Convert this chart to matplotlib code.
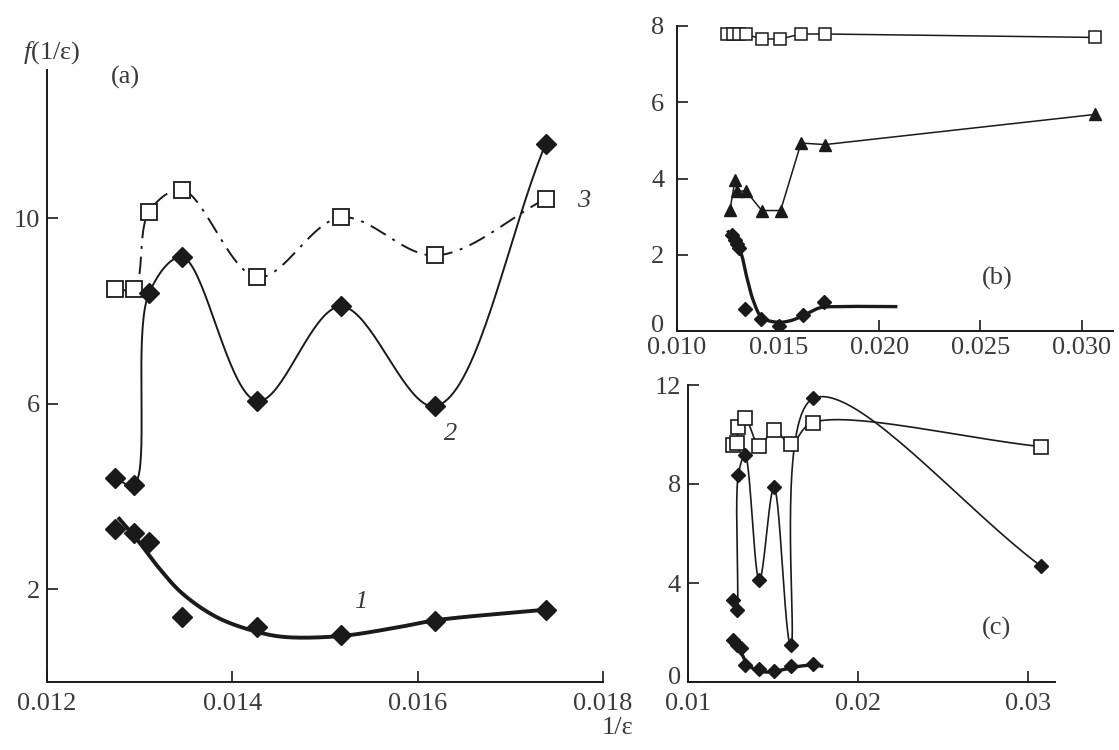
import numpy as np
import matplotlib
matplotlib.use("Agg")
import matplotlib.pyplot as plt
from matplotlib.transforms import ScaledTranslation

# ---------------- data ----------------
# Panel (a)
a_x = [0.01273, 0.01294, 0.01310, 0.01346, 0.01427, 0.01517, 0.01619, 0.01738]
a_y1 = [3.31, 3.21, 3.01, 1.40, 1.19, 1.01, 1.32, 1.55]
a_y2 = [4.40, 4.25, 8.38, 9.16, 6.06, 8.10, 5.95, 11.60]
a_y3 = [8.48, 8.48, 10.14, 10.61, 8.73, 10.02, 9.20, 10.42]
a_fit1_x = [0.01278, 0.01295, 0.01320, 0.01346, 0.01384, 0.01427, 0.01457,
            0.01516, 0.01576, 0.01619, 0.01738]
a_fit1_y = [3.52, 3.13, 2.48, 1.91, 1.39, 1.08, 0.97, 0.99, 1.17, 1.33, 1.56]
a_xticks = [0.012, 0.014, 0.016, 0.018]
a_xticklabels = ["0.012", "0.014", "0.016", "0.018"]
a_yticks = [2, 6, 10]

# Panel (b)
b_sq_x = [0.01249, 0.01278, 0.01308, 0.01341, 0.01419, 0.01511, 0.01613, 0.01732, 0.03066]
b_sq_y = [7.78, 7.78, 7.78, 7.78, 7.66, 7.66, 7.79, 7.79, 7.70]
b_tri_x = [0.01262, 0.01287, 0.01298, 0.01341, 0.01419, 0.01512, 0.01613, 0.01732, 0.03066]
b_tri_y = [3.18, 3.97, 3.67, 3.67, 3.16, 3.16, 4.93, 4.89, 5.68]
b_dia_x = [0.01270, 0.01287, 0.01298, 0.01308, 0.01336, 0.01414, 0.01506, 0.01621, 0.01727]
b_dia_y = [2.51, 2.38, 2.29, 2.19, 0.58, 0.32, 0.14, 0.43, 0.76]
b_fit_x = [0.01254, 0.01311, 0.01345, 0.01377, 0.01419, 0.01493, 0.01567,
           0.01641, 0.01707, 0.01789, 0.02081]
b_fit_y = [2.60, 2.12, 1.41, 0.80, 0.36, 0.23, 0.28, 0.45, 0.61, 0.64, 0.64]
b_xticks = [0.010, 0.015, 0.020, 0.025, 0.030]
b_xticklabels = ["0.010", "0.015", "0.020", "0.025", "0.030"]
b_yticks = [0, 2, 4, 6, 8]

# Panel (c)
c_sq_x = [0.01263, 0.01290, 0.01293, 0.01336, 0.01420, 0.01506, 0.01605, 0.01734, 0.03079]
c_sq_y = [9.58, 9.67, 10.32, 10.66, 9.55, 10.18, 9.62, 10.48, 9.51]
c_dia_x = [0.01267, 0.01287, 0.01296, 0.01336, 0.01420, 0.01506, 0.01605, 0.01738, 0.03079]
c_dia_y = [3.30, 2.90, 8.36, 9.17, 4.11, 7.86, 1.48, 11.46, 4.68]
c_low_x = [0.01267, 0.01290, 0.01310, 0.01336, 0.01420, 0.01506, 0.01605, 0.01738]
c_low_y = [1.69, 1.48, 1.36, 0.68, 0.51, 0.45, 0.64, 0.72]
c_fit_x = [0.01257, 0.01306, 0.01346, 0.01395, 0.01463, 0.01561, 0.01660, 0.01738, 0.01787]
c_fit_y = [1.76, 1.28, 0.77, 0.50, 0.40, 0.50, 0.64, 0.68, 0.64]
c_xticks = [0.01, 0.02, 0.03]
c_xticklabels = ["0.01", "0.02", "0.03"]
c_yticks = [0, 4, 8, 12]

# ---------------- style ----------------
plt.rcParams["font.family"] = ["Liberation Serif", "DejaVu Serif"]
plt.rcParams["mathtext.fontset"] = "custom"
plt.rcParams["mathtext.rm"] = "Liberation Serif"
plt.rcParams["mathtext.it"] = "Liberation Serif:italic"
LC = "#1a1a1a"
TC = "#3a3a3a"
FS = 19

fig = plt.figure(figsize=(11.19, 7.5), dpi=100)
W, H = 1119.0, 750.0


def add_axes(l, r, b, t):
    return fig.add_axes([l / W, 1 - b / H, (r - l) / W, (b - t) / H])


def smooth(ax, xs, ys, n=40):
    """Centripetal Catmull-Rom curve through the points, in display space."""
    bb = ax.get_position()
    pw = bb.width * W
    ph = bb.height * H
    x0, x1 = ax.get_xlim()
    y0, y1 = ax.get_ylim()
    P = np.column_stack([(np.asarray(xs) - x0) / (x1 - x0) * pw,
                         (np.asarray(ys) - y0) / (y1 - y0) * ph])
    E = np.vstack([2 * P[0] - P[1], P, 2 * P[-1] - P[-2]])
    out = []
    for i in range(len(P) - 1):
        p0, p1, p2, p3 = E[i:i + 4]

        def tj(ti, pa, pb):
            return ti + max(np.hypot(*(pb - pa)), 1e-6) ** 0.5
        t0 = 0.0
        t1 = tj(t0, p0, p1)
        t2 = tj(t1, p1, p2)
        t3 = tj(t2, p2, p3)
        t = np.linspace(t1, t2, n)[:, None]
        A1 = (t1 - t) / (t1 - t0) * p0 + (t - t0) / (t1 - t0) * p1
        A2 = (t2 - t) / (t2 - t1) * p1 + (t - t1) / (t2 - t1) * p2
        A3 = (t3 - t) / (t3 - t2) * p2 + (t - t2) / (t3 - t2) * p3
        B1 = (t2 - t) / (t2 - t0) * A1 + (t - t0) / (t2 - t0) * A2
        B2 = (t3 - t) / (t3 - t1) * A2 + (t - t1) / (t3 - t1) * A3
        C = (t2 - t) / (t2 - t1) * B1 + (t - t1) / (t2 - t1) * B2
        out.append(C if i == 0 else C[1:])
    C = np.vstack(out)
    return C[:, 0] / pw * (x1 - x0) + x0, C[:, 1] / ph * (y1 - y0) + y0


def style_axes(ax, xticks, xlabels, yticks, xpad, ypad):
    for s in ["top", "right"]:
        ax.spines[s].set_visible(False)
    for s in ["left", "bottom"]:
        ax.spines[s].set_linewidth(1.4)
        ax.spines[s].set_color(LC)
    ax.set_xticks(xticks)
    ax.set_xticklabels(xlabels)
    ax.set_yticks(yticks)
    ax.set_yticklabels([str(v) for v in yticks])
    ax.tick_params(direction="in", length=8, width=1.2, color=LC,
                   labelsize=FS, labelcolor=TC)
    ax.tick_params(axis="x", pad=xpad)
    ax.tick_params(axis="y", pad=ypad)
    ax.patch.set_alpha(0)


def lift_zero_label(ax, px):
    lbl = ax.get_yticklabels()[0]
    lbl.set_transform(lbl.get_transform() +
                      ScaledTranslation(0, px / 100.0, fig.dpi_scale_trans))


# ---------------- panel (a) ----------------
axa = add_axes(47, 603, 682, 70)
axa.set_xlim(0.012, 0.018)
axa.set_ylim(0, 13.2)
style_axes(axa, a_xticks, a_xticklabels, a_yticks, 8, 5)

sx, sy = smooth(axa, a_x, a_y3)
axa.plot(sx, sy, color=LC, lw=1.4, dashes=(9, 4, 1.5, 4), zorder=2)
axa.plot(a_x, a_y3, ls="none", marker="s", ms=12, mfc="white", mec=LC, mew=1.3, zorder=4)

sx, sy = smooth(axa, a_x, a_y2)
axa.plot(sx, sy, color=LC, lw=1.4, zorder=2)
axa.plot(a_x, a_y2, ls="none", marker="D", ms=10, color=LC, zorder=4)

sx, sy = smooth(axa, a_fit1_x, a_fit1_y)
axa.plot(sx, sy, color=LC, lw=2.8, zorder=2)
axa.plot(a_x, a_y1, ls="none", marker="D", ms=10, color=LC, zorder=4)

axa.text(0.01285, 13.05, "(a)", fontsize=FS, color=TC, ha="center", va="center")
axa.text(0.01538, 1.72, "1", fontsize=FS, color=TC, style="italic", ha="center", va="center")
axa.text(0.01636, 5.35, "2", fontsize=FS, color=TC, style="italic", ha="center", va="center")
axa.text(0.01779, 10.38, "3", fontsize=FS, color=TC, style="italic", ha="center", va="center")
fig.text(52 / W, 1 - 53 / H, r"$f$(1/ε)", fontsize=FS, color=TC, ha="center", va="center")
fig.text(633 / W, 1 - 728 / H, "1/ε", fontsize=FS, color=TC, ha="right", va="center")

# ---------------- panel (b) ----------------
axb = add_axes(677, 1113, 331, 26)
axb.set_xlim(0.010, 0.03155)
axb.set_ylim(0, 8.0)
style_axes(axb, b_xticks, b_xticklabels, b_yticks, 4, 9)
lift_zero_label(axb, 7)

axb.plot(b_sq_x, b_sq_y, color=LC, lw=1.1, marker="s", ms=9, mfc="white",
         mec=LC, mew=1.1, zorder=3)
axb.plot(b_tri_x, b_tri_y, color=LC, lw=1.1, marker="^", ms=9, zorder=3)

sx, sy = smooth(axb, b_fit_x, b_fit_y)
axb.plot(sx, sy, color=LC, lw=2.4, zorder=2)
axb.plot(b_dia_x, b_dia_y, ls="none", marker="D", ms=7, color=LC, zorder=4)

axb.text(0.02582, 1.38, "(b)", fontsize=FS, color=TC, ha="center", va="center")

# ---------------- panel (c) ----------------
axc = add_axes(688, 1055, 682, 385)
axc.set_xlim(0.01, 0.03161)
axc.set_ylim(0, 12)
style_axes(axc, c_xticks, c_xticklabels, c_yticks, 8, 5)
lift_zero_label(axc, 7)

sx, sy = smooth(axc, c_sq_x, c_sq_y)
axc.plot(sx, sy, color=LC, lw=1.2, zorder=2)
axc.plot(c_sq_x, c_sq_y, ls="none", marker="s", ms=10, mfc="white", mec=LC, mew=1.2, zorder=4)

sx, sy = smooth(axc, c_dia_x, c_dia_y)
axc.plot(sx, sy, color=LC, lw=1.2, zorder=2)
axc.plot(c_dia_x, c_dia_y, ls="none", marker="D", ms=7.5, color=LC, zorder=4)

sx, sy = smooth(axc, c_fit_x, c_fit_y)
axc.plot(sx, sy, color=LC, lw=2.4, zorder=2)
axc.plot(c_low_x, c_low_y, ls="none", marker="D", ms=7, color=LC, zorder=4)

axc.text(0.02818, 2.16, "(c)", fontsize=FS, color=TC, ha="center", va="center")

fig.savefig("out.png", dpi=100)
